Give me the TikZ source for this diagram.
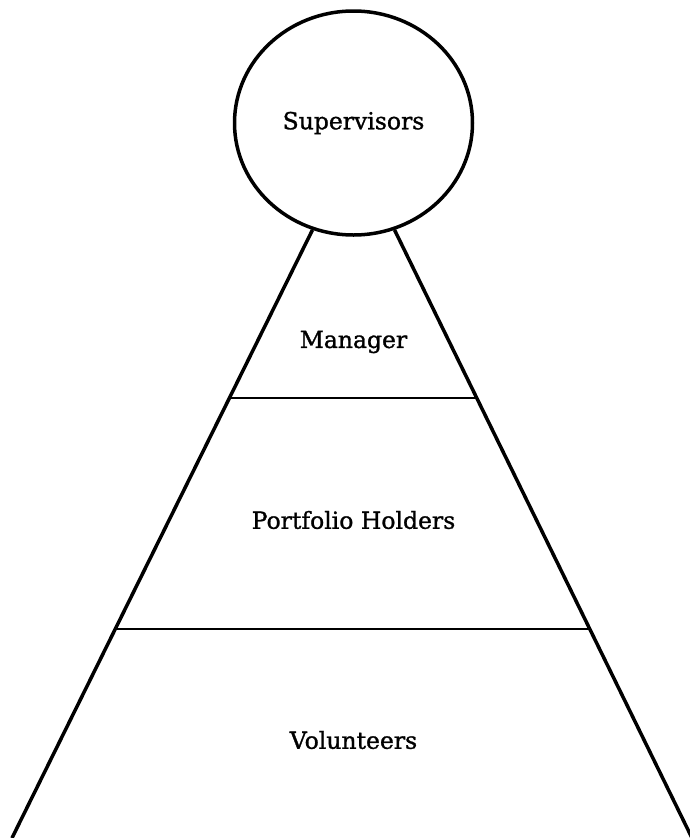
\documentclass[tikz,border=0pt]{standalone}
\usepackage{fontspec}
\setmainfont{DejaVu Serif}
\newfontfamily\tierfont{DejaVu Serif}[FakeBold=1.2]
\usepackage{tikz}
\usetikzlibrary{shapes.geometric,calc}

\begin{document}
\begin{tikzpicture}[
    x=1pt, y=-1pt,
    every node/.style={font=\tierfont\fontsize{23.5}{28}\selectfont},
    side/.style={line width=3.5pt},
    tier/.style={line width=2.5pt}
]
    \useasboundingbox (0,0) rectangle (690,838);

    \node (sup) [draw, ellipse, line width=3.5pt, minimum width=238pt, minimum height=224pt] at (353.5,123) {Supervisors};

    \coordinate (bl) at (12,838);
    \coordinate (br) at (692,838);

    \draw[side] (sup.249) -- (bl);
    \draw[side] (sup.291) -- (br);

    \draw[tier] ($(sup.249)!0.276!(bl)$) -- ($(sup.291)!0.276!(br)$);
    \draw[tier] ($(sup.249)!0.656!(bl)$) -- ($(sup.291)!0.656!(br)$);

    \node (man) at (353.5,342) {Manager};
    \node (port) at (353.5,520) {Portfolio Holders};
    \node (vol) at (353.5,740) {Volunteers};
\end{tikzpicture}
\end{document}
